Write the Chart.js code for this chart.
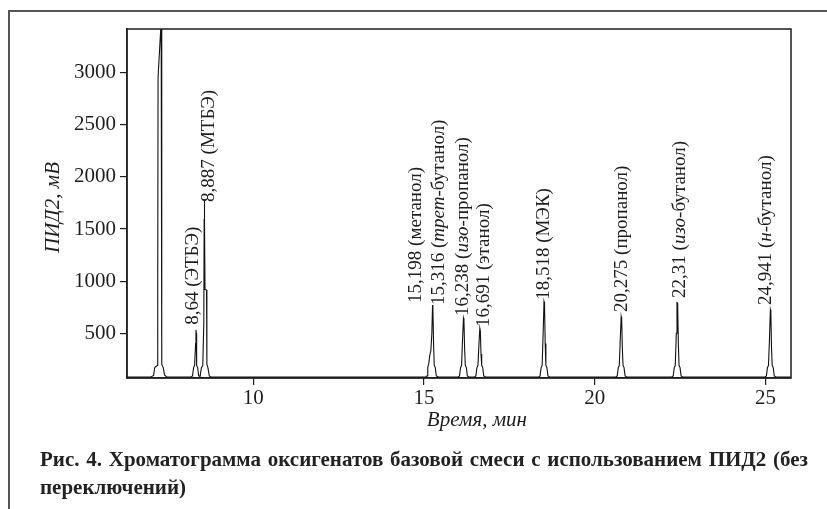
<!DOCTYPE html>
<html lang="ru">
<head>
<meta charset="utf-8">
<script src="https://cdn.jsdelivr.net/npm/chart.js@4.4.1/dist/chart.umd.min.js"></script>
<style>
  html, body { margin: 0; padding: 0; background: #fff; overflow: hidden; }
  #wrap { position: relative; width: 827px; height: 509px; overflow: hidden; }
  #frame { position: absolute; left: 8px; top: 10px; width: 900px; height: 600px;
           border-left: 2px solid #555; border-top: 2px solid #555; }
  #chart { position: absolute; left: 0; top: 0; }
  #caption { position: absolute; left: 40px; top: 445px; width: 768px;
             font-family: "Liberation Serif", "DejaVu Serif", serif; font-weight: bold;
             font-size: 21px; line-height: 28px; color: #222; }
  #caption .l1 { text-align: justify; text-align-last: justify; white-space: nowrap; }
</style>
</head>
<body>
<div id="wrap">
  <div id="frame"></div>
  <canvas id="chart" width="827" height="509"></canvas>
  <div id="caption">
    <div class="l1">Рис. 4. Хроматограмма оксигенатов базовой смеси с использованием ПИД2 (без</div>
    <div>переключений)</div>
  </div>
</div>
<script>
// ---- data ----
const xTickValues = [10, 15, 20, 25];
const yTickValues = [500, 1000, 1500, 2000, 2500, 3000];

// chromatogram trace: retention time (min) and PID2 signal (mV)
const traceTime = [
  6.30, 7.00, 7.08, 7.11, 7.15, 7.18, 7.20, 7.21, 7.29, 7.30, 7.31, 7.32, 7.325, 7.36, 7.40, 7.46,
  8.17, 8.22, 8.25, 8.28, 8.31, 8.32, 8.33, 8.34, 8.37, 8.40,
  8.44, 8.48, 8.52, 8.55, 8.56, 8.565, 8.575, 8.585, 8.63, 8.64, 8.67, 8.71, 8.76,
  15.05, 15.09, 15.11, 15.14, 15.17, 15.20, 15.23, 15.25, 15.26, 15.28, 15.30, 15.33, 15.36, 15.42,
  16.00, 16.04, 16.07, 16.10, 16.13, 16.155, 16.17, 16.19, 16.21, 16.24, 16.27, 16.32,
  16.48, 16.52, 16.55, 16.58, 16.61, 16.635, 16.65, 16.67, 16.69, 16.72, 16.75, 16.80,
  18.36, 18.40, 18.43, 18.46, 18.49, 18.515, 18.53, 18.55, 18.57, 18.60, 18.63, 18.68,
  20.62, 20.66, 20.69, 20.72, 20.75, 20.775, 20.79, 20.81, 20.83, 20.86, 20.89, 20.94,
  22.26, 22.30, 22.33, 22.36, 22.39, 22.41, 22.43, 22.45, 22.47, 22.50, 22.53, 22.58,
  24.99, 25.03, 25.06, 25.09, 25.12, 25.145, 25.16, 25.18, 25.20, 25.23, 25.26, 25.31, 25.75
];
const traceSignal = [
  80, 80, 95, 170, 180, 190, 900, 2960, 3430, 3700, 900, 895, 200, 170, 100, 80,
  80, 90, 170, 190, 400, 532, 500, 190, 170, 90,
  85, 170, 190, 600, 1590, 1780, 1590, 920, 915, 200, 170, 90, 80,
  80, 90, 170, 210, 290, 330, 500, 771, 740, 400, 190, 170, 90, 80,
  80, 90, 170, 190, 450, 644, 620, 350, 190, 170, 90, 80,
  80, 90, 170, 190, 400, 548, 520, 300, 190, 170, 90, 80,
  80, 90, 170, 190, 500, 803, 780, 400, 190, 170, 90, 80,
  80, 90, 170, 190, 450, 659, 630, 350, 190, 170, 90, 80,
  80, 90, 170, 190, 500, 794, 790, 400, 190, 170, 90, 80,
  80, 90, 170, 190, 450, 724, 700, 350, 190, 170, 90, 80, 80
];

// peak annotations (text, *...* = italic) and where the text starts (time, signal)
const peakLabels = [
  '8,64 (ЭТБЭ)', '8,887 (МТБЭ)', '15,198 (метанол)', '15,316 (*трет*-бутанол)',
  '16,238 (*изо*-пропанол)', '16,691 (этанол)', '18,518 (МЭК)', '20,275 (пропанол)',
  '22,31 (*изо*-бутанол)', '24,941 (*н*-бутанол)'
];
const labelTime   = [8.235, 8.70, 14.76, 15.45, 16.15, 16.76, 18.52, 20.80, 22.51, 25.03];
const labelSignal = [580, 1760, 791, 771, 666, 560, 820, 704, 839, 771];

const xTitle = 'Время, мин';
const yTitle = 'ПИД2, мВ';

// ---- chart ----
const SERIF = '"Liberation Serif", "DejaVu Serif", serif';
const INK = '#1e1e1e';

const points = traceTime.map((t, i) => ({ x: t, y: traceSignal[i] }));

function drawSegments(ctx, text, size) {
  const parts = text.split('*');
  let x = 0;
  parts.forEach((p, i) => {
    if (!p) return;
    ctx.font = (i % 2 ? 'italic ' : '') + size + 'px ' + SERIF;
    ctx.fillText(p, x, 0);
    x += ctx.measureText(p).width;
  });
}

const decorPlugin = {
  id: 'decor',
  afterDraw(chart) {
    const { ctx, chartArea: a, scales } = chart;
    ctx.save();
    // plot box
    ctx.strokeStyle = INK;
    ctx.lineWidth = 1.5;
    ctx.strokeRect(a.left, a.top, a.right - a.left, a.bottom - a.top);
    ctx.fillStyle = INK;
    // peak labels (rotated)
    peakLabels.forEach((lab, i) => {
      const px = scales.x.getPixelForValue(labelTime[i]);
      const py = scales.y.getPixelForValue(labelSignal[i]);
      ctx.save();
      ctx.translate(px, py);
      ctx.rotate(-Math.PI / 2);
      ctx.textBaseline = 'middle';
      ctx.textAlign = 'left';
      drawSegments(ctx, lab, 19);
      ctx.restore();
    });
    // axis titles
    ctx.font = 'italic 21px ' + SERIF;
    ctx.textAlign = 'center';
    ctx.textBaseline = 'middle';
    ctx.fillText(xTitle, a.left + (a.right - a.left) * 0.527, a.bottom + 42);
    ctx.save();
    ctx.translate(53, (a.top + a.bottom) / 2 + 4);
    ctx.rotate(-Math.PI / 2);
    ctx.fillText(yTitle, 0, 0);
    ctx.restore();
    ctx.restore();
  }
};

new Chart(document.getElementById('chart'), {
  type: 'line',
  data: {
    datasets: [{
      data: points,
      borderColor: '#111',
      borderWidth: 1.1,
      pointRadius: 0,
      tension: 0,
      fill: false
    }]
  },
  options: {
    responsive: false,
    animation: false,
    devicePixelRatio: 1,
    layout: { padding: { left: 0, top: 29, right: 36, bottom: 101 } },
    plugins: { legend: { display: false }, tooltip: { enabled: false } },
    scales: {
      x: {
        type: 'linear',
        min: 6.3,
        max: 25.75,
        afterFit(s) { s.height = 30; },
        afterBuildTicks(s) { s.ticks = xTickValues.map(v => ({ value: v })); },
        grid: { drawOnChartArea: false, drawTicks: true, tickLength: 7, color: INK, lineWidth: 1.2 },
        border: { display: true, color: INK, width: 1.5 },
        ticks: { color: INK, font: { family: SERIF, size: 21 }, padding: 1, maxRotation: 0,
                 callback: v => String(v) }
      },
      y: {
        type: 'linear',
        min: 70,
        max: 3420,
        afterFit(s) { s.width = 127; },
        afterBuildTicks(s) { s.ticks = yTickValues.map(v => ({ value: v })); },
        grid: { drawOnChartArea: false, drawTicks: true, tickLength: 7, color: INK, lineWidth: 1.2 },
        border: { display: true, color: INK, width: 1.5 },
        ticks: { color: INK, font: { family: SERIF, size: 21 }, padding: 4,
                 callback: v => String(v) }
      }
    }
  },
  plugins: [decorPlugin]
});
</script>
</body>
</html>
